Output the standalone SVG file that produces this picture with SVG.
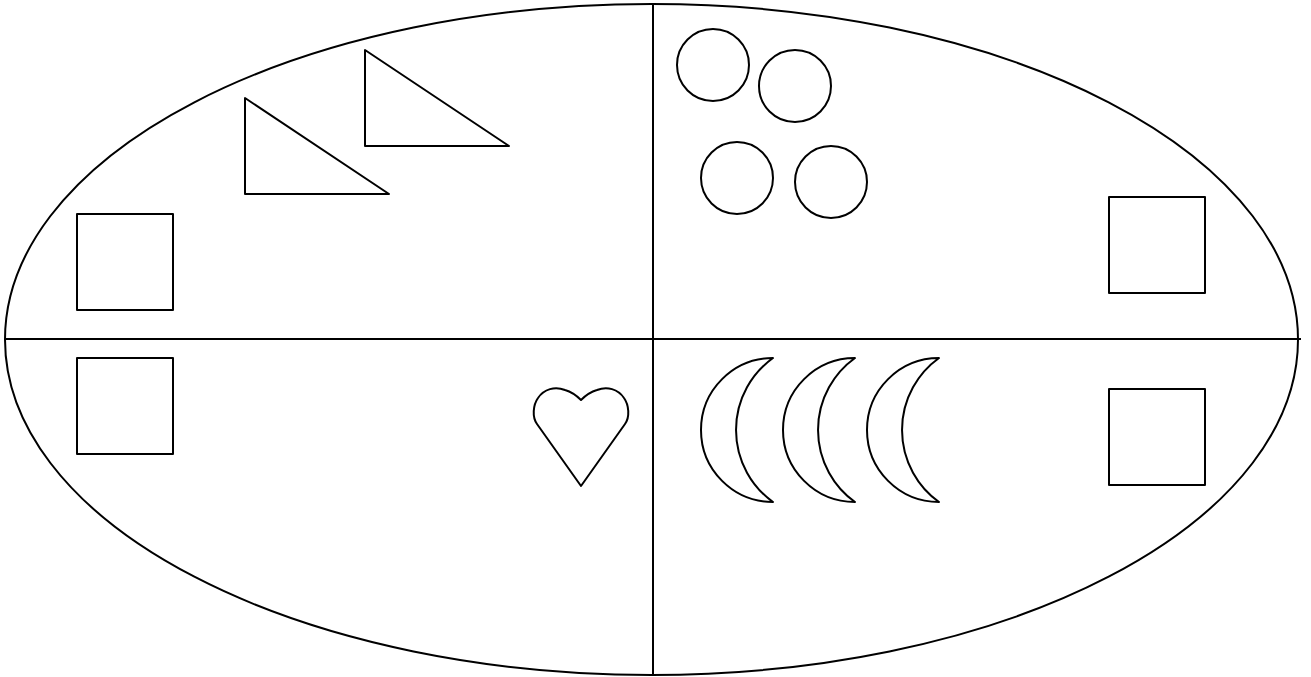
<svg xmlns="http://www.w3.org/2000/svg" width="1311" height="677" viewBox="0 0 1311 677">
<style>
.s{fill:none;stroke:#000;stroke-width:2;stroke-linejoin:round}
</style>
<rect width="1311" height="677" fill="#fff"/>
<g id="oval"><ellipse class="s" cx="651.5" cy="339.5" rx="646.5" ry="335.5"/></g>
<g id="connectors">
<line class="s" x1="653" y1="4" x2="653" y2="675"/>
<line class="s" x1="5" y1="339" x2="1301" y2="339"/>
</g>
<g id="tri1"><polygon class="s" points="245,98 245,194 389,194"/></g>
<g id="tri2"><polygon class="s" points="365,50 365,146 509,146"/></g>
<g id="sq1"><rect class="s" x="77" y="214" width="96" height="96"/></g>
<g id="sq2"><rect class="s" x="77" y="358" width="96" height="96"/></g>
<g id="sq3"><rect class="s" x="1109" y="197" width="96" height="96"/></g>
<g id="sq4"><rect class="s" x="1109" y="389" width="96" height="96"/></g>
<g id="c1"><circle class="s" cx="713" cy="65" r="36"/></g>
<g id="c2"><circle class="s" cx="795" cy="86" r="36"/></g>
<g id="c3"><circle class="s" cx="737" cy="178" r="36"/></g>
<g id="c4"><circle class="s" cx="831" cy="182" r="36"/></g>
<g id="heart"><path class="s" d="M581,486 L537,424 C532,417 533,405 538,398 C544,389 555,386 565,390 C572,392 578,397 581,400 C584,397 590,392 597,390 C607,386 618,389 624,398 C629,405 630,417 625,424 Z"/></g>
<g id="moon1"><path class="s" d="M773,358 A72,72 0 0 0 773,502 A88.6,88.6 0 0 1 773,358 Z"/></g>
<g id="moon2"><path class="s" d="M855,358 A72,72 0 0 0 855,502 A88.6,88.6 0 0 1 855,358 Z"/></g>
<g id="moon3"><path class="s" d="M939,358 A72,72 0 0 0 939,502 A88.6,88.6 0 0 1 939,358 Z"/></g>
</svg>
